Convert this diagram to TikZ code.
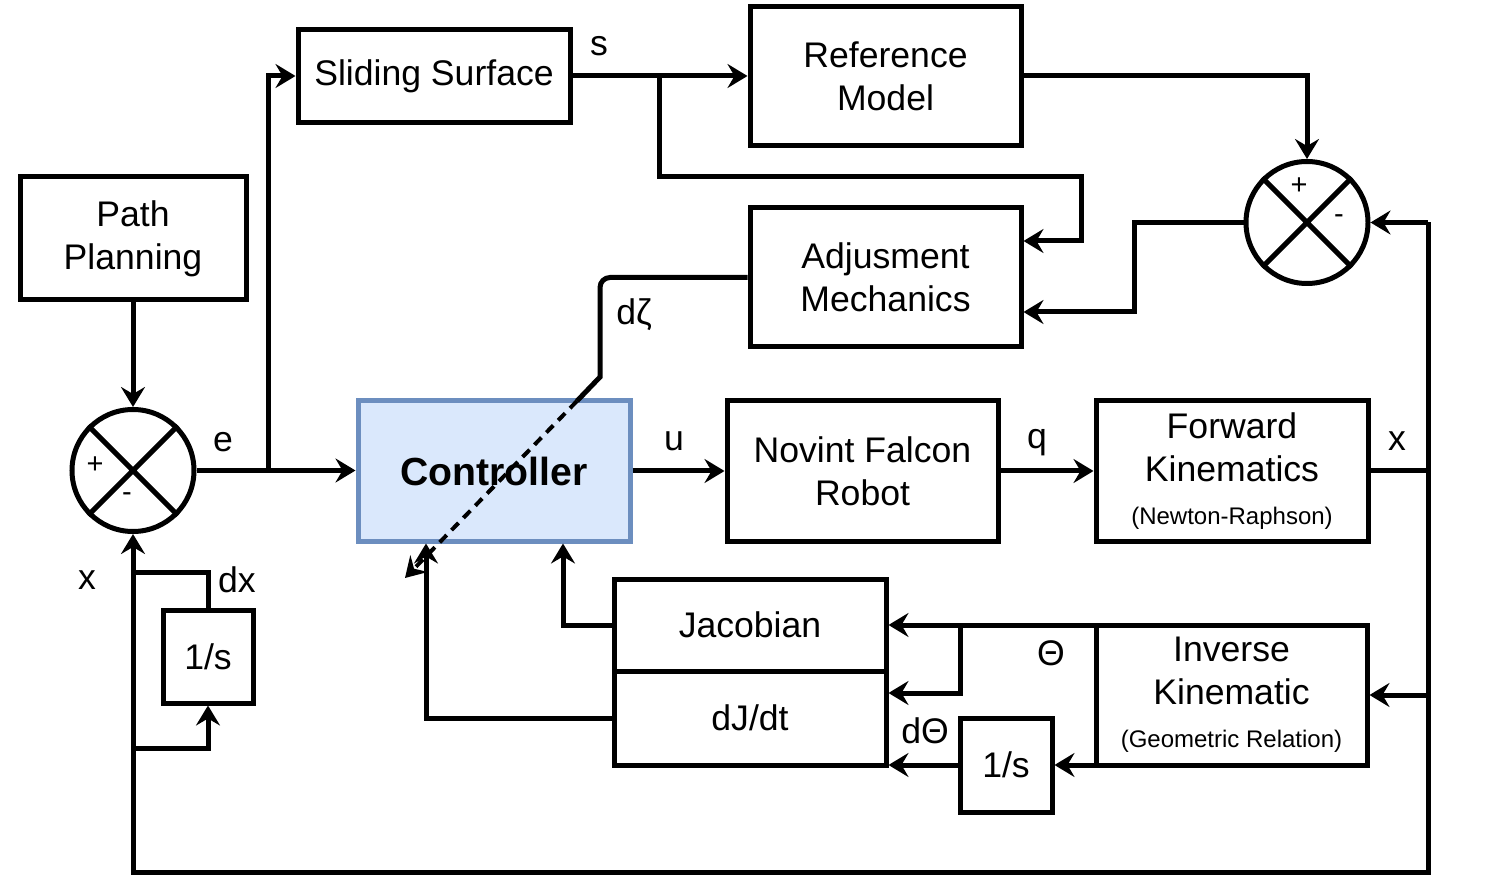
\documentclass[tikz,border=0pt]{standalone}
\usepackage{fontspec}
\setmainfont{Liberation Sans}
\usetikzlibrary{arrows.meta}
\newcommand\mainfs{\fontsize{17.8}{21.5}\selectfont}
\newcommand\subfs{\fontsize{12}{14}\selectfont}
\newcommand\sgnfs{\fontsize{14.5}{16}\selectfont}
\definecolor{ctrlfill}{RGB}{218,232,252}
\definecolor{ctrldraw}{RGB}{108,142,191}
\tikzset{
  blk/.style={draw, line width=2.5pt, fill=white, inner sep=0pt, align=center, font=\mainfs},
  arr/.style={line width=2.5pt, -{Stealth[length=10pt,width=12pt,inset=3.5pt]}},
  ln/.style={line width=2.5pt},
  lbl/.style={inner sep=0pt, font=\mainfs},
  sgn/.style={inner sep=0pt, font=\sgnfs},
  sumc/.style={circle, draw, line width=2.5pt, fill=white, minimum size=61pt, inner sep=0pt},
}
\begin{document}
\begin{tikzpicture}[x=0.5pt,y=-0.5pt]
\useasboundingbox (0,0) rectangle (1485,882);

% blocks
\node[blk, minimum width=113pt, minimum height=61.5pt] (pp) at (133,238.5) {Path\\Planning};
\node[blk, minimum width=136pt, minimum height=46.5pt] (ss) at (434,76) {Sliding Surface};
\node[blk, minimum width=135.5pt, minimum height=69.5pt] (rm) at (885.5,76) {Reference\\Model};
\node[blk, minimum width=135.5pt, minimum height=69.5pt] (am) at (885.5,277.5) {Adjusment\\Mechanics};
\node[blk, minimum width=136pt, minimum height=70pt, fill=ctrlfill, draw=ctrldraw,
      font=\bfseries\fontsize{19.6}{23}\selectfont] (ctrl) at (494,471) {Controller};
\node[blk, minimum width=135.5pt, minimum height=70pt] (nfr) at (862.5,471) {Novint Falcon\\Robot};
\node[blk, minimum width=136pt, minimum height=70pt] (fk) at (1232,471) {Forward\\Kinematics\\{\subfs (Newton-Raphson)}};
\node[blk, minimum width=136pt, minimum height=46pt] (jac) at (750,625) {Jacobian};
\node[blk, minimum width=136pt, minimum height=47pt] (djdt) at (750,718) {dJ/dt};
\node[blk, minimum width=135.5pt, minimum height=70pt] (ik) at (1231.5,695) {Inverse\\Kinematic\\{\subfs (Geometric Relation)}};
\node[blk, minimum width=45pt, minimum height=46.5pt] (is1) at (208,656.5) {1/s};
\node[blk, minimum width=46pt, minimum height=47pt] (is2) at (1006,765) {1/s};

% summing junctions
\node[sumc] (sum1) at (133,470.5) {};
\draw[ln] (sum1.45) -- (sum1.225) (sum1.135) -- (sum1.-45);
\node[sgn] (s1p) at (95,465) {+};
\node[sgn] (s1m) at (127,497) {-};
\node[sumc] (sum2) at (1307,222.5) {};
\draw[ln] (sum2.45) -- (sum2.225) (sum2.135) -- (sum2.-45);
\node[sgn] (s2p) at (1299,186) {+};
\node[sgn] (s2m) at (1339,219) {-};

% coordinates
\coordinate (eb) at (268,470.5);
\coordinate (sb) at (659,76);
\coordinate (xr) at (1428,471);
\coordinate (iktl) at (1096,625);
\coordinate (ikbl) at (1096,765);

% connectors
\draw[arr] (pp.south) -- (sum1.north);
\draw[arr] (sum1.east) -- (sum1.east -| ctrl.west);
\draw[arr] (eb) |- (ss.west);
\draw[arr] (ss.east) -- (ss.east -| rm.west);
\draw[arr] (sb) -- (659,177) -- (1081,177) -- (1081,241) -- (am.east |- 0,241);
\draw[arr] (rm.east) -| (sum2.north);
\draw[arr] (sum2.west) -- (1134,222.5) -- (1134,312) -- (am.east |- 0,312);
\draw[ln] (am.west) -- (610,277.5) to[out=180,in=90] (600,287.5) -- (600,377) -- (577,401);
\draw[line width=2pt, dash pattern=on 5pt off 3.5pt, -{Stealth[length=10pt,width=12pt,inset=3.5pt]}] (577,401) -- (405,578);
\draw[arr] (ctrl.east) -- (ctrl.east -| nfr.west);
\draw[arr] (nfr.east) -- (nfr.east -| fk.west);
\draw[ln] (fk.east) -- (xr);
\draw[arr] (sum2.east -| xr) -- (sum2.east);
\draw[arr] (sum2.east -| xr) -- (1428,872) -| (sum1.south);
\draw[arr] (ik.east -| xr) -- (ik.east);
\draw[arr] (133,748) -| (is1.south);
\draw[ln] (is1.north) |- (133,572);
\draw[arr] (iktl) -- (iktl -| jac.east);
\draw[arr] (960,625) |- (djdt.east |- 0,693);
\draw[arr] (ikbl) -- (ikbl -| is2.east);
\draw[arr] (is2.west) -- (is2.west -| djdt.east);
\draw[arr] (jac.west) -| (ctrl.south -| 563,0);
\draw[arr] (djdt.west) -| (ctrl.south -| 426,0);

% labels
\node[lbl] (le) at (223,442) {e};
\node[lbl] (lx1) at (87,580) {x};
\node[lbl] (ldx) at (237,580) {dx};
\node[lbl] (ls) at (599,46) {s};
\node[lbl] (lu) at (674,441) {u};
\node[lbl] (lq) at (1037,443) {q};
\node[lbl] (lx2) at (1397,441) {x};
\node[lbl] (ldz) at (634,315) {dζ};
\node[lbl] (lth) at (1051,653) {Θ};
\node[lbl] (ldth) at (925,731) {dΘ};
\end{tikzpicture}
\end{document}
